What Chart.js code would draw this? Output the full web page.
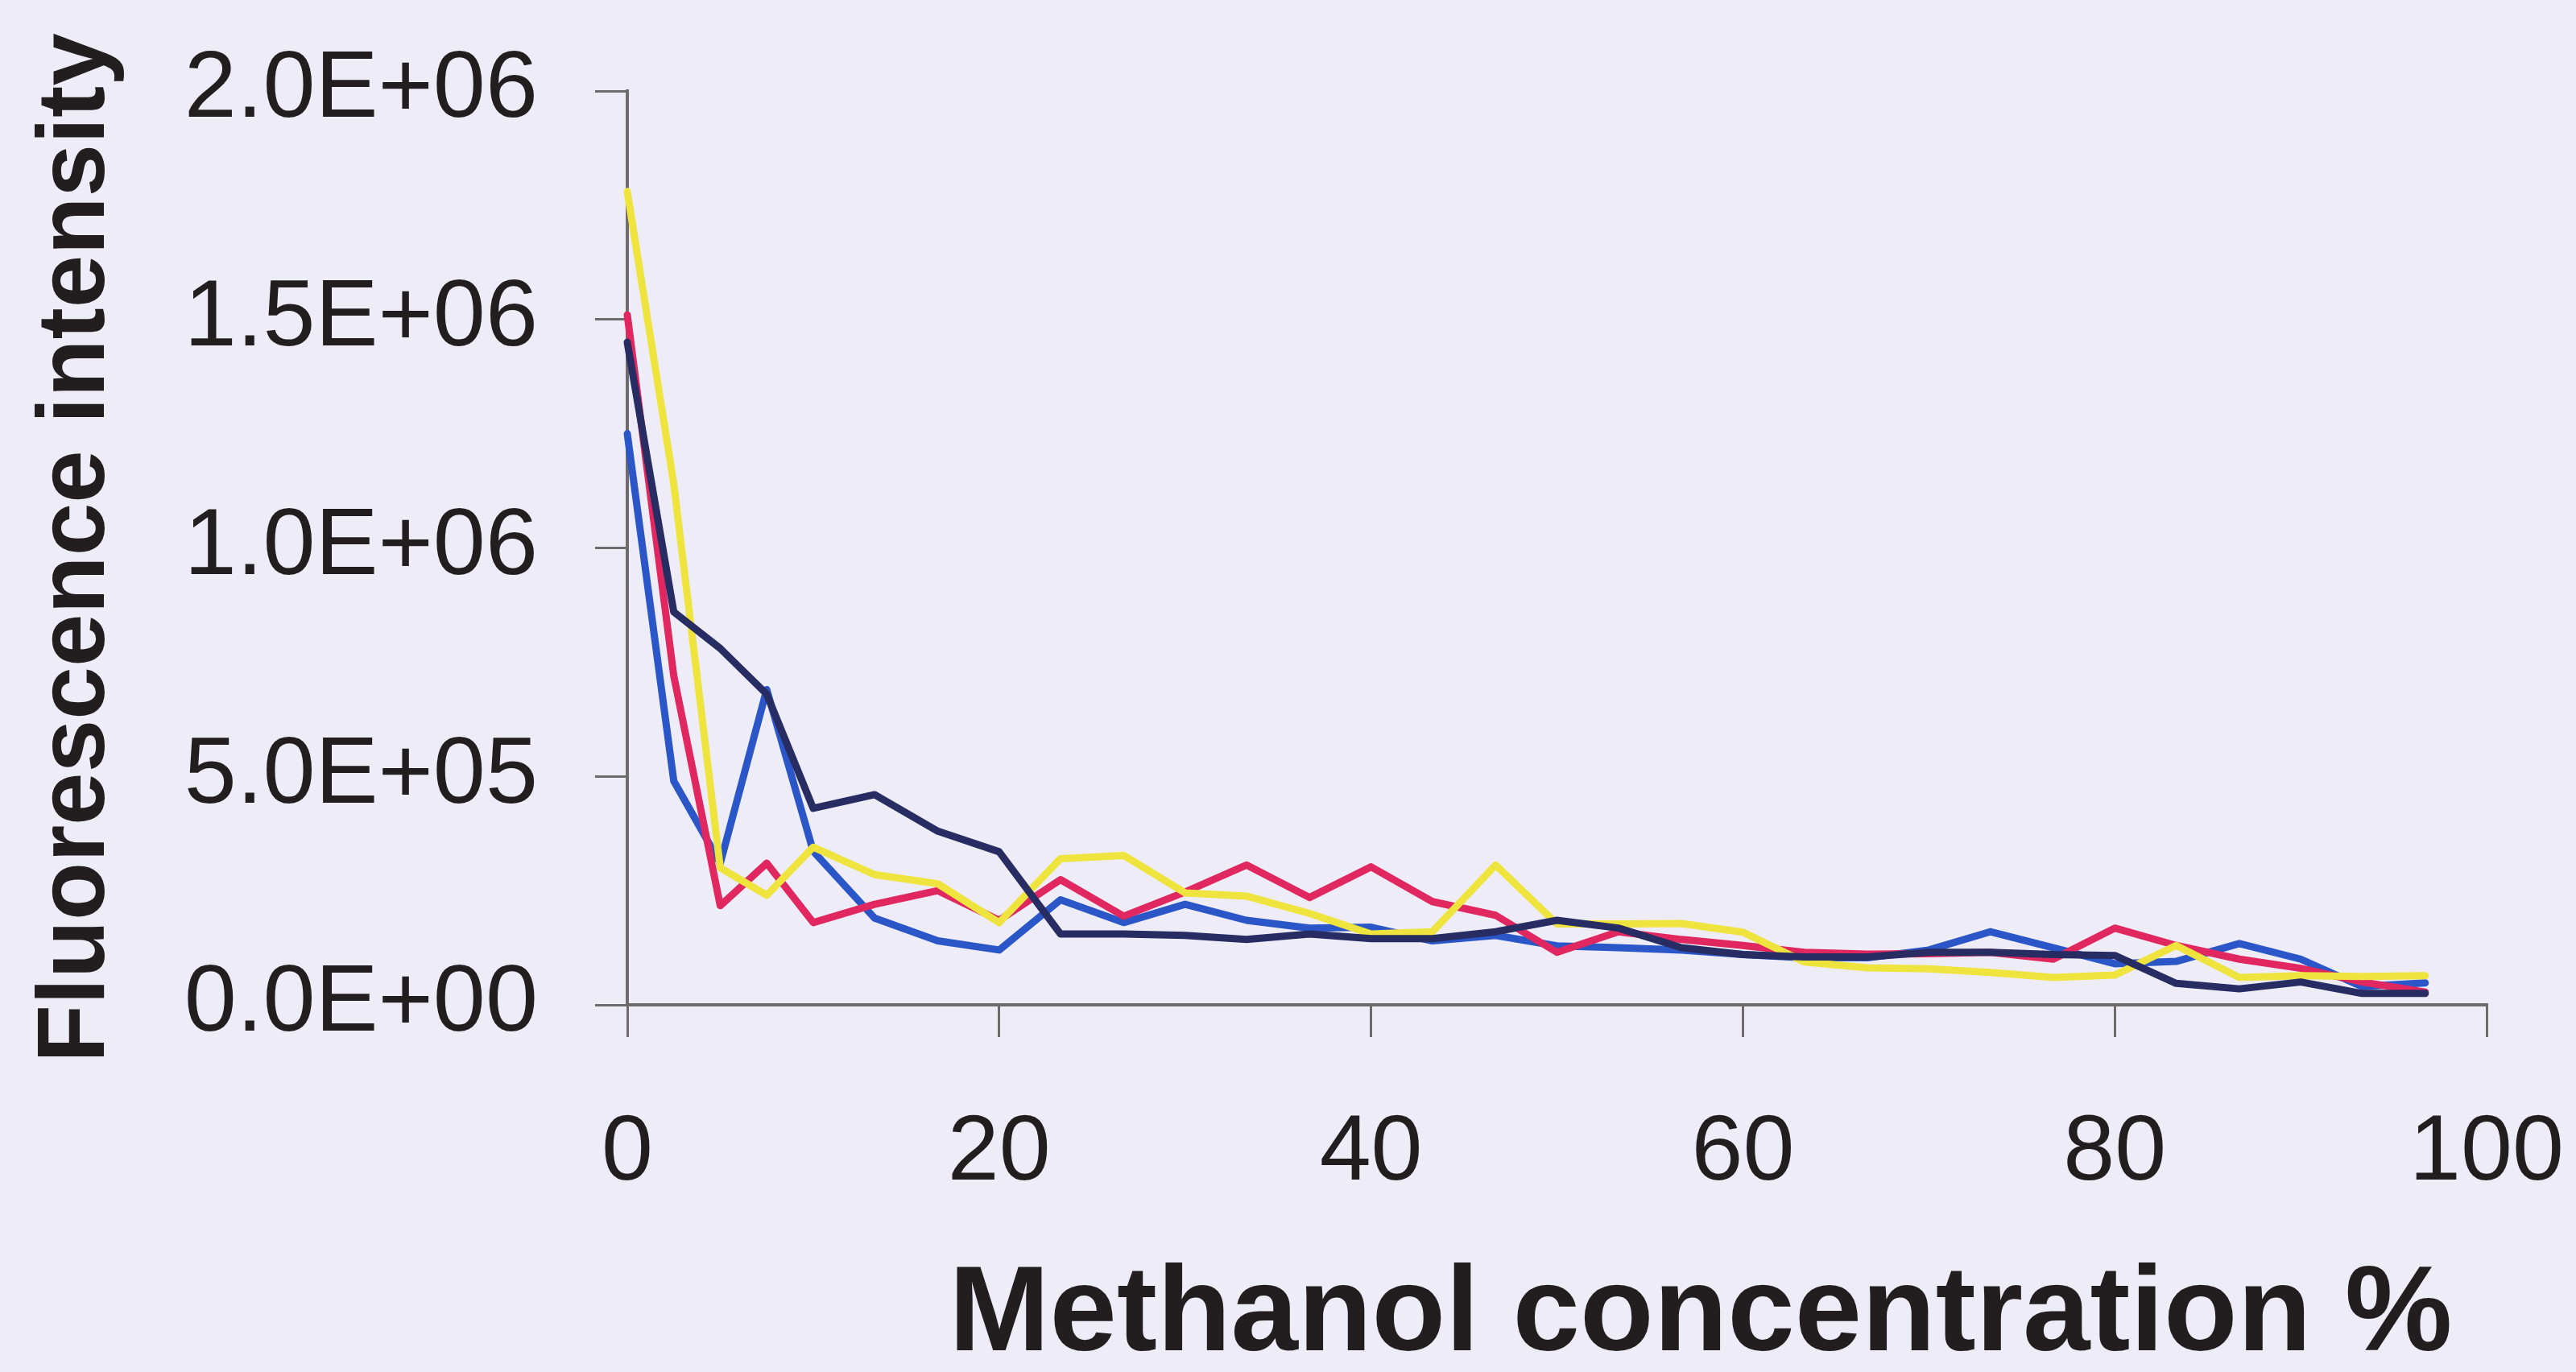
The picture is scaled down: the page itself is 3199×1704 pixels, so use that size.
<!DOCTYPE html>
<html>
<head>
  <title>Fluorescence vs methanol concentration</title>
  <script src="https://cdn.jsdelivr.net/npm/chart.js@4.4.0/dist/chart.umd.min.js"></script>
  <style>
    html, body { margin: 0; padding: 0; background: #eeedf7; }
    canvas { display: block; }
  </style>
</head>
<body>
  <canvas id="fluoChart" width="3199" height="1704"></canvas>

  <script>
    // methanol concentration (%) of each fraction
    const methanol = [0, 2.5, 5, 7.5, 10, 13.3, 16.7, 20, 23.3, 26.7, 30, 33.3, 36.7, 40, 43.3, 46.7,
                      50, 53.3, 56.7, 60, 63.3, 66.7, 70, 73.3, 76.7, 80, 83.3, 86.7, 90, 93.3, 96.7];

    // fluorescence intensity
    const navyRun = [1450000, 860000, 780000, 680000, 430000, 460000, 380000, 335000, 155000, 155000, 152000,
                     143000, 155000, 145000, 145000, 160000, 185000, 168000, 125000, 110000, 105000, 105000,
                     115000, 115000, 110000, 108000, 47000, 35000, 50000, 25000, 25000];
    const yellowRun = [1780000, 1140000, 300000, 240000, 345000, 285000, 265000, 180000, 320000, 327000, 245000,
                       238000, 200000, 155000, 160000, 306000, 177000, 177000, 178000, 159000, 94000, 81000,
                       79000, 71000, 60000, 65000, 130000, 60000, 64000, 62000, 64000];
    const redRun = [1510000, 720000, 217000, 310000, 180000, 220000, 250000, 185000, 274000, 194000, 247000,
                    306000, 235000, 302000, 226000, 196000, 115000, 160000, 143000, 130000, 115000, 111000,
                    112000, 115000, 100000, 168000, 130000, 100000, 80000, 50000, 28000];
    const blueRun = [1250000, 490000, 310000, 690000, 336000, 190000, 140000, 120000, 230000, 180000, 220000,
                     185000, 168000, 170000, 140000, 152000, 129000, 125000, 120000, 110000, 103000, 103000,
                     120000, 160000, 125000, 90000, 95000, 134000, 100000, 40000, 48000];

    const yTicks = [0, 500000, 1000000, 1500000, 2000000];
    const xTicks = [0, 20, 40, 60, 80, 100];

    const series = [
      { label: 'Run 1', values: navyRun, color: '#272c62' },
      { label: 'Run 2', values: yellowRun, color: '#efe43e' },
      { label: 'Run 3', values: redRun, color: '#e1275f' },
      { label: 'Run 4', values: blueRun, color: '#2b56c8' }
    ];

    // 2000000 -> "2.0E+06"
    function sciLabel(v) {
      const parts = Number(v).toExponential(1).split('e');
      const exp = parts[1];
      return parts[0] + 'E' + exp[0] + exp.slice(1).padStart(2, '0');
    }

    const axisColor = '#6f6a6b';
    const textColor = '#221e1f';
    const fontFamily = '"Liberation Sans", Arial, sans-serif';

    // the x title in the original sits left of the plot centre, so draw it ourselves
    const xTitlePlugin = {
      id: 'xTitle',
      afterDraw(chart) {
        const c = chart.ctx;
        c.save();
        c.font = 'bold 150px ' + fontFamily;
        c.fillStyle = textColor;
        c.textAlign = 'center';
        c.textBaseline = 'middle';
        c.fillText('Methanol concentration %', 2112, 1636);
        c.restore();
      }
    };

    const ctx = document.getElementById('fluoChart').getContext('2d');
    new Chart(ctx, {
      type: 'line',
      data: {
        datasets: series.map(s => ({
          label: s.label,
          data: methanol.map((x, i) => ({ x: x, y: s.values[i] })),
          borderColor: s.color,
          backgroundColor: s.color,
          borderWidth: 9,
          borderJoinStyle: 'round',
          borderCapStyle: 'round',
          pointRadius: 0,
          tension: 0,
          clip: false
        }))
      },
      options: {
        responsive: false,
        animation: false,
        layout: { padding: { top: 113, right: 111, bottom: 0, left: 0 } },
        plugins: {
          legend: { display: false },
          tooltip: { enabled: false }
        },
        scales: {
          x: {
            type: 'linear',
            min: 0,
            max: 100,
            // fixed box; the layout padding alone decides where the plot ends
            afterFit: scale => { scale.height = 456; scale.paddingLeft = 0; scale.paddingRight = 0; },
            afterBuildTicks: scale => { scale.ticks = xTicks.map(v => ({ value: v })); },
            border: { display: true, color: axisColor, width: 4 },
            grid: { drawOnChartArea: false, drawTicks: true, tickLength: 40, color: axisColor, lineWidth: 3 },
            ticks: {
              padding: 76,
              color: textColor,
              maxRotation: 0,
              font: { family: fontFamily, size: 115, lineHeight: 1.2 }
            },
            title: { display: false }
          },
          y: {
            min: 0,
            max: 2000000,
            afterFit: scale => { scale.width = 779; scale.paddingTop = 0; scale.paddingBottom = 0; },
            afterBuildTicks: scale => { scale.ticks = yTicks.map(v => ({ value: v })); },
            border: { display: true, color: axisColor, width: 4 },
            grid: { drawOnChartArea: false, drawTicks: true, tickLength: 40, color: axisColor, lineWidth: 3 },
            ticks: {
              padding: 71,
              color: textColor,
              callback: v => sciLabel(v),
              font: { family: fontFamily, size: 117, lineHeight: 1.2 }
            },
            title: {
              display: true,
              text: 'Fluorescence intensity',
              color: textColor,
              padding: { top: 26, bottom: 0 },
              font: { family: fontFamily, size: 118, weight: 'bold', lineHeight: 1.2 }
            }
          }
        }
      },
      plugins: [xTitlePlugin]
    });
  </script>
</body>
</html>
